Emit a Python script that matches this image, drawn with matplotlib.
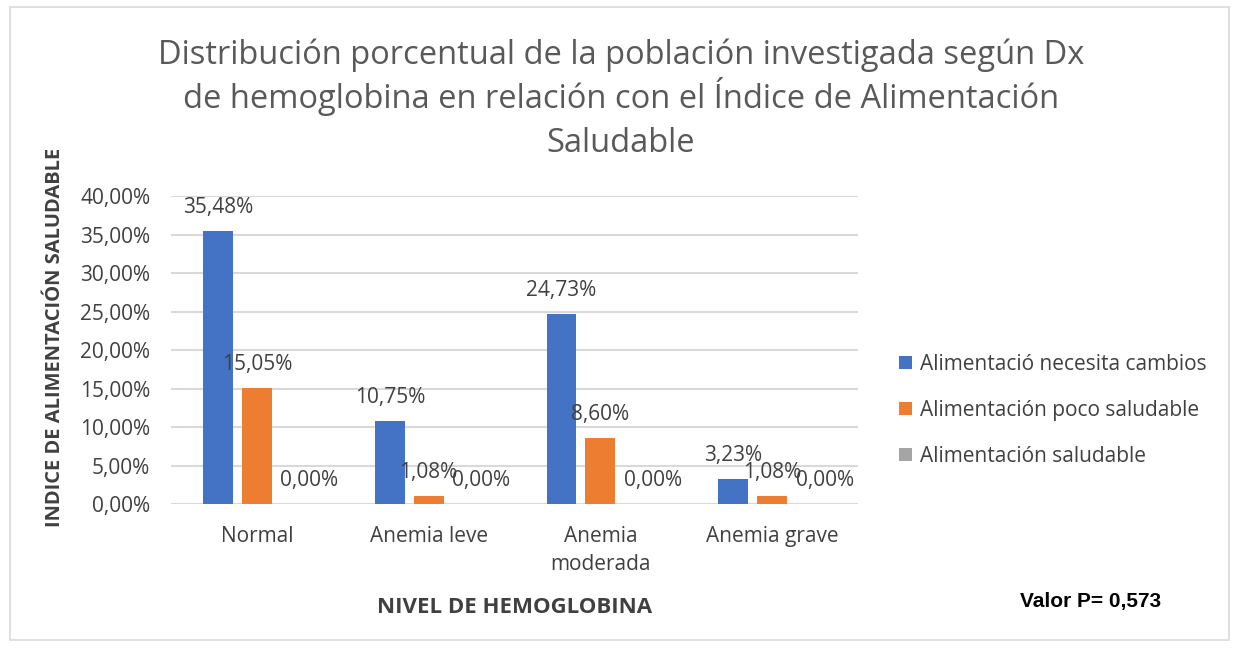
import matplotlib.pyplot as plt
import numpy as np
from matplotlib.patches import Rectangle
from matplotlib.ticker import FuncFormatter

plt.rcParams['font.family'] = ['Open Sans', 'DejaVu Sans']

# Data
categories = ['Normal', 'Anemia leve', 'Anemia\nmoderada', 'Anemia grave']
series_names = ['Alimentació necesita cambios',
                'Alimentación poco saludable',
                'Alimentación saludable']
necesita_cambios = [35.48, 10.75, 24.73, 3.23]
poco_saludable = [15.05, 1.08, 8.60, 1.08]
saludable = [0.00, 0.00, 0.00, 0.00]
colors = ['#4472C4', '#ED7D31', '#A5A5A5']

title_lines = ['Distribución porcentual de la población investigada según Dx',
               'de hemoglobina en relación con el Índice de Alimentación',
               'Saludable']

fig = plt.figure(figsize=(12.39, 6.48), dpi=100)
ax = fig.add_axes([0.138, 0.222, 0.5545, 0.475])

# Outer chart border
fig.patches.append(Rectangle((0.008, 0.012), 0.984, 0.977, transform=fig.transFigure,
                             fill=False, edgecolor='#d9d9d9', linewidth=1.2))

x = np.arange(len(categories))
width = 0.174
step = 0.226
all_series = [necesita_cambios, poco_saludable, saludable]
text_color = '#404040'

for i, (vals, name, col) in enumerate(zip(all_series, series_names, colors)):
    pos = x + (i - 1) * step
    ax.bar(pos, vals, width=width, color=col, label=name, zorder=3)
    for p, v in zip(pos, vals):
        dx = 0.08 if v == 0 else 0
        ax.annotate(f'{v:.2f}%'.replace('.', ','), (p + dx, v),
                    xytext=(0, 13), textcoords='offset points',
                    ha='center', va='baseline', fontsize=15, color=text_color)

ax.set_xlim(-0.5, len(categories) - 0.5)
ax.set_ylim(0, 40)
ax.set_yticks(np.arange(0, 41, 5))
ax.yaxis.set_major_formatter(FuncFormatter(lambda v, _: f'{v:.2f}%'.replace('.', ',')))
ax.set_xticks(x)
ax.set_xticklabels(categories, linespacing=1.4)
ax.tick_params(axis='both', length=0, labelsize=15, labelcolor=text_color)
ax.tick_params(axis='x', pad=16)
ax.tick_params(axis='y', pad=15)
ax.grid(axis='y', color='#d9d9d9', linewidth=1.5, zorder=0)
for s in ax.spines.values():
    s.set_visible(False)

ax.set_xlabel('NIVEL DE HEMOGLOBINA', fontsize=16, fontweight='bold',
              color=text_color, va='baseline')
ax.xaxis.set_label_coords(0.5, -0.354)
fig.text(0.044, 0.48, 'INDICE DE ALIMENTACIÓN SALUDABLE', rotation=90,
         ha='center', va='center', fontsize=14.5, fontweight='bold', color=text_color)

# Title, one line per text so the spacing is even
for k, line in enumerate(title_lines):
    fig.text(0.501, 1 - (64 + 44 * k) / 648, line, ha='center', va='baseline',
             fontsize=23.5, color='#595959')

ax.legend(loc='center left', bbox_to_anchor=(1.033, 0.305), frameon=False,
          fontsize=15, labelcolor=text_color, handlelength=0.6, handleheight=0.6,
          handletextpad=0.4, labelspacing=1.2)

fig.text(0.823, 0.071, 'Valor P= 0,573', fontsize=15, fontweight='bold',
         family='Liberation Sans', color='black', va='center')

fig.savefig('out.png', dpi=100)
